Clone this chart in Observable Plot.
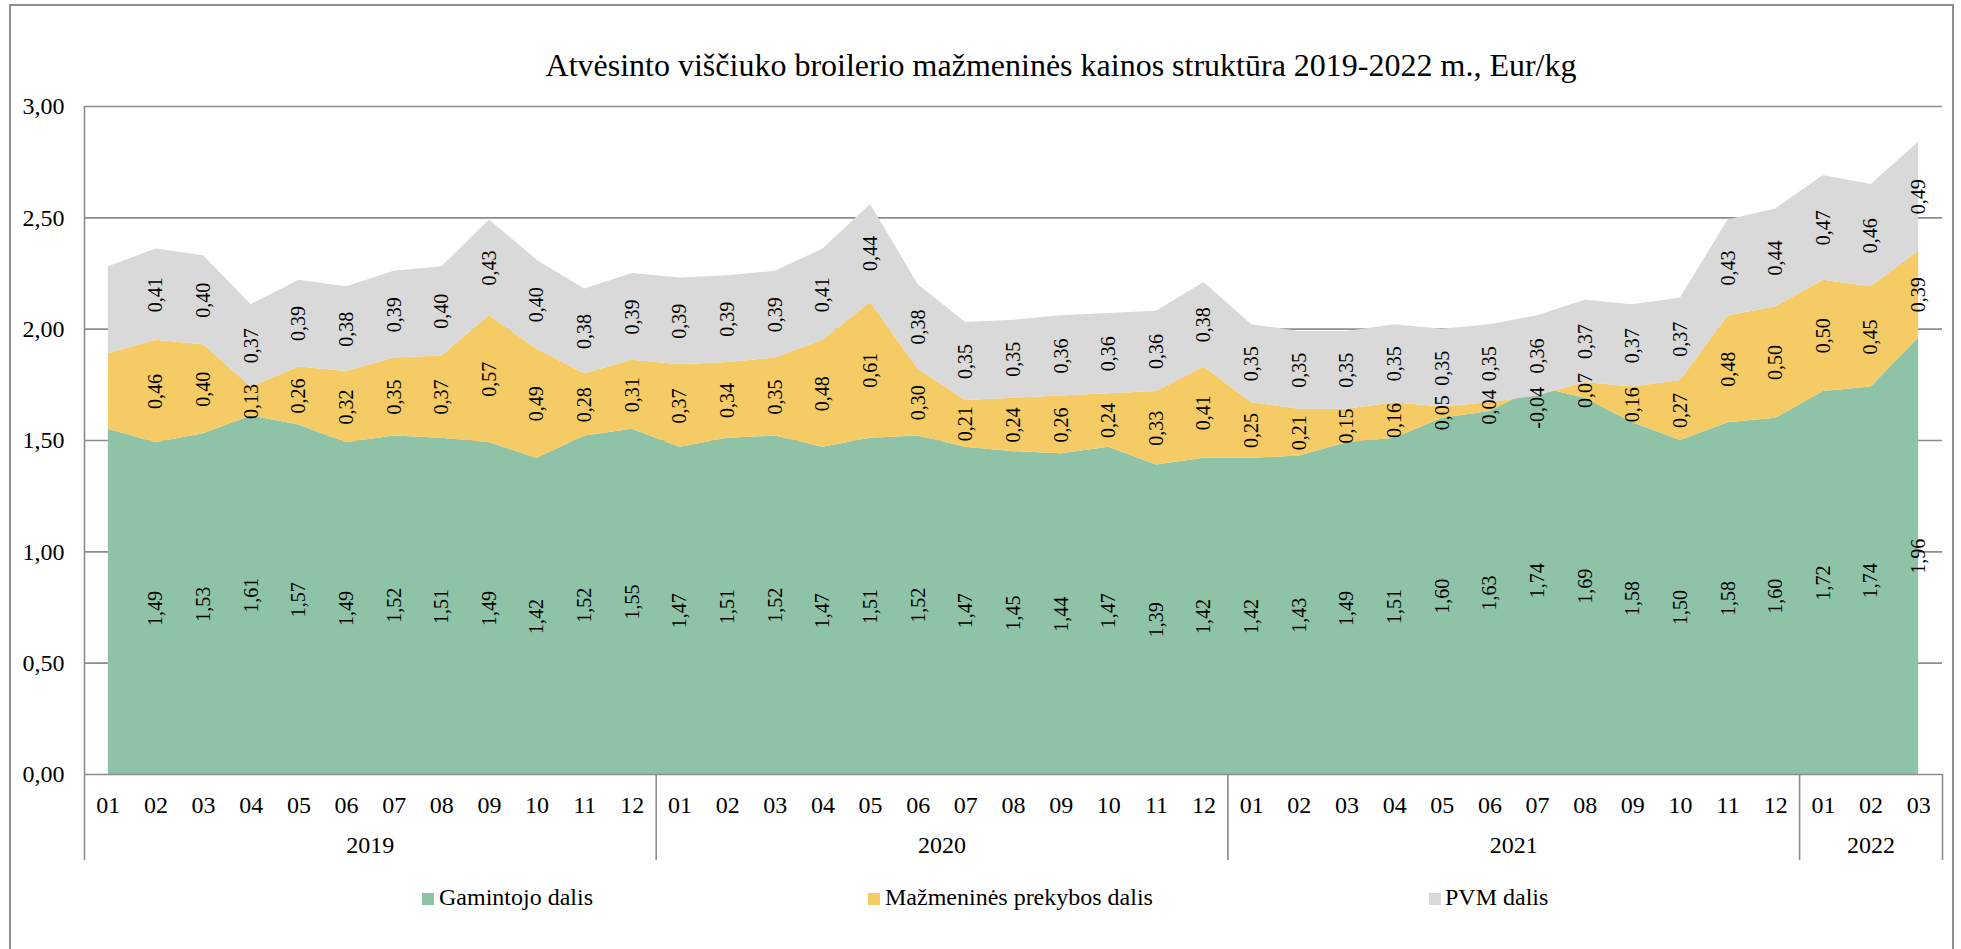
<!DOCTYPE html>
<html>
<head>
<meta charset="utf-8">
<script src="https://cdn.jsdelivr.net/npm/d3@7"></script>
<script src="https://cdn.jsdelivr.net/npm/@observablehq/plot@0.6"></script>
<style>
  body { margin: 0; background: #fff; }
  #wrap { position: relative; width: 1961px; height: 949px; overflow: hidden; background: #fff;
          font-family: "Liberation Serif", "Times New Roman", serif; color: #000; }
  #frame { position: absolute; left: 9px; top: 4px; width: 1945px; height: 1000px;
           border: 2px solid #8e8e8e; box-sizing: border-box; }
  #chart { position: absolute; left: 0; top: 0; }
  #title { position: absolute; left: 1061px; top: 49px; transform: translateX(-50%);
           font-size: 32px; line-height: 32px; white-space: nowrap; }
  .leg { position: absolute; top: 885px; font-size: 24px; line-height: 24px; white-space: nowrap; }
  .sw { position: absolute; top: 893px; width: 12px; height: 12px; }
</style>
</head>
<body>
<div id="wrap">
  <div id="frame"></div>
  <div id="chart"></div>
  <div id="title">Atvėsinto viščiuko broilerio mažmeninės kainos struktūra 2019-2022 m., Eur/kg</div>
  <div id="legend"></div>
</div>
<script>
// ---- data ----
const monthLabels = ["01","02","03","04","05","06","07","08","09","10","11","12",
                     "01","02","03","04","05","06","07","08","09","10","11","12",
                     "01","02","03","04","05","06","07","08","09","10","11","12",
                     "01","02","03"];
const yearLabels = ["2019","2020","2021","2022"];
const yearMonthCounts = [12, 12, 12, 3];

const seriesNames = ["Gamintojo dalis", "Mažmeninės prekybos dalis", "PVM dalis"];
const seriesColors = ["#8ec3a7", "#f5cb66", "#d9d9d9"];

// Gamintojo dalis (first value not labelled in the source)
const producer = [1.55,1.49,1.53,1.61,1.57,1.49,1.52,1.51,1.49,1.42,1.52,1.55,
                  1.47,1.51,1.52,1.47,1.51,1.52,1.47,1.45,1.44,1.47,1.39,1.42,
                  1.42,1.43,1.49,1.51,1.60,1.63,1.74,1.69,1.58,1.50,1.58,1.60,
                  1.72,1.74,1.96];
// Mažmeninės prekybos dalis
const retail = [0.34,0.46,0.40,0.13,0.26,0.32,0.35,0.37,0.57,0.49,0.28,0.31,
                0.37,0.34,0.35,0.48,0.61,0.30,0.21,0.24,0.26,0.24,0.33,0.41,
                0.25,0.21,0.15,0.16,0.05,0.04,-0.04,0.07,0.16,0.27,0.48,0.50,
                0.50,0.45,0.39];
// PVM dalis
const vat = [0.39,0.41,0.40,0.37,0.39,0.38,0.39,0.40,0.43,0.40,0.38,0.39,
             0.39,0.39,0.39,0.41,0.44,0.38,0.35,0.35,0.36,0.36,0.36,0.38,
             0.35,0.35,0.35,0.35,0.35,0.35,0.36,0.37,0.37,0.37,0.43,0.44,
             0.47,0.46,0.49];
const yTicks = [0, 0.5, 1, 1.5, 2, 2.5, 3];
const unlabelled = [0]; // the first period carries no data labels in the source

// ---- derived table (manual stacking, like Excel's cumulative stacked area) ----
const seriesValues = [producer, retail, vat];
const rows = [];
monthLabels.forEach((m, i) => {
  let base = 0;
  seriesValues.forEach((vals, s) => {
    const v = vals[i];
    rows.push({i, series: seriesNames[s], value: v, y1: base, y2: base + v});
    base += v;
  });
});
const yearStarts = [];
let acc = 0;
yearMonthCounts.forEach(c => { yearStarts.push(acc); acc += c; });
const yearCenters = yearLabels.map((y, k) => ({label: y, x: yearStarts[k] + (yearMonthCounts[k] - 1) / 2}));
const separators = yearLabels.map((y, k) => yearStarts[k] + yearMonthCounts[k] - 0.5);
const fmt = v => v.toFixed(2).replace(".", ",");
const n = monthLabels.length;

const H = 870, MB = 96, MT = 106;
const frameH = H - MB - MT;
const gray = "#8c8c8c";

const labelled = rows.filter(d => !unlabelled.includes(d.i));
const posLabels = labelled.filter(d => d.value >= 0);
const negLabels = labelled.filter(d => d.value < 0);

const chart = Plot.plot({
  width: 1961,
  height: H,
  marginLeft: 84,
  marginRight: 19,
  marginTop: MT,
  marginBottom: MB,
  style: {fontFamily: "'Liberation Serif', 'Times New Roman', serif", color: "#000", background: "transparent", overflow: "visible"},
  x: {domain: [-0.5, n - 0.5], axis: null},
  y: {domain: [0, 3], axis: null},
  color: {domain: seriesNames, range: seriesColors},
  marks: [
    Plot.ruleY(yTicks.filter(d => d > 0), {stroke: gray, strokeWidth: 1.6}),
    Plot.areaY(rows, {x: "i", y1: "y1", y2: "y2", z: "series", fill: "series", curve: "linear"}),
    Plot.ruleY([0], {stroke: gray, strokeWidth: 1.6}),
    Plot.ruleX([-0.5], {stroke: gray, strokeWidth: 1.6, insetBottom: -86}),
    Plot.ruleX(separators, {stroke: gray, strokeWidth: 1.6, insetTop: frameH, insetBottom: -86}),
    Plot.text(posLabels, {
      x: "i", y: d => (d.y1 + d.y2) / 2, text: d => fmt(d.value),
      rotate: -90, fontSize: 20, fill: "#000"
    }),
    Plot.text(negLabels, {
      x: "i", y: "y1", text: d => fmt(d.value),
      rotate: -90, textAnchor: "end", fontSize: 20, fill: "#000"
    }),
    Plot.axisY(yTicks, {tickSize: 0, tickPadding: 20, fontSize: 24, tickFormat: fmt, fill: "#000"}),
    Plot.axisX(d3.range(n), {tickSize: 0, tickPadding: 21, fontSize: 24, tickFormat: i => monthLabels[i], fill: "#000"}),
    Plot.text(yearCenters, {x: "x", y: () => 0, text: "label", dy: 71, fontSize: 24, fill: "#000"})
  ]
});
document.getElementById("chart").appendChild(chart);

// ---- legend ----
const legendPos = [[422, 439], [868, 885], [1429, 1445]];
const legend = document.getElementById("legend");
seriesNames.forEach((name, k) => {
  const sw = document.createElement("div");
  sw.className = "sw";
  sw.style.left = legendPos[k][0] + "px";
  sw.style.background = seriesColors[k];
  legend.appendChild(sw);
  const t = document.createElement("div");
  t.className = "leg";
  t.style.left = legendPos[k][1] + "px";
  t.textContent = name;
  legend.appendChild(t);
});
</script>
</body>
</html>
